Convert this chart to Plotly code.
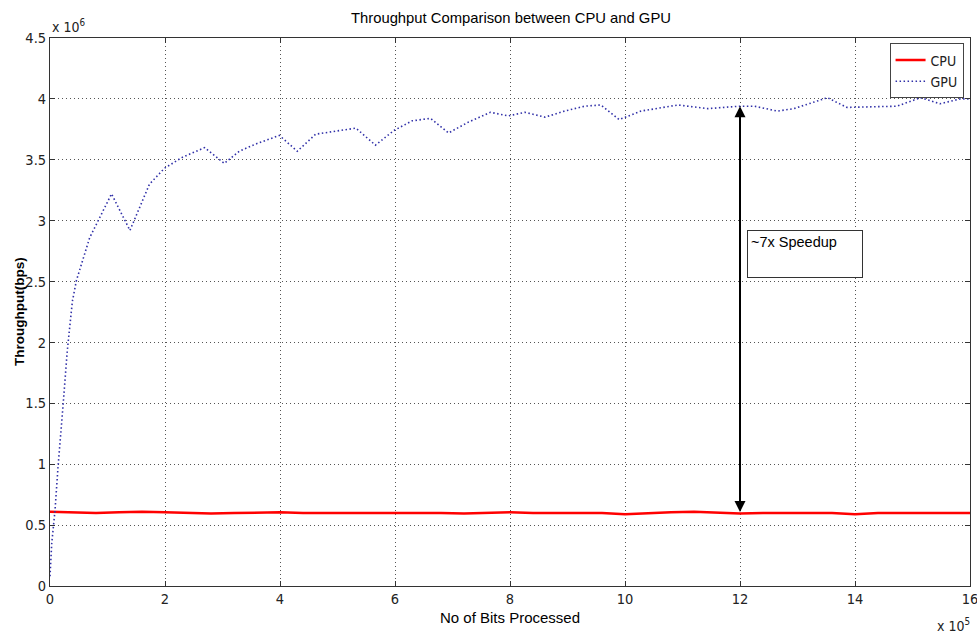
import numpy as np
import plotly.graph_objects as go

# ---- data (x in units of 1e5 bits, y in units of 1e6 bps) ----
gpu_x = [0, 0.03, 0.087, 0.14, 0.23, 0.30, 0.39, 0.46, 0.69, 0.87, 1.07, 1.39, 1.56, 1.73,
         1.99, 2.30, 2.69, 3.03, 3.29, 3.58, 3.99, 4.30, 4.62, 5.0, 5.32, 5.66, 5.98, 6.30,
         6.62, 6.93, 7.28, 7.66, 7.97, 8.26, 8.61, 8.95, 9.30, 9.58, 9.90, 10.28, 10.92,
         11.44, 11.99, 12.25, 12.65, 12.94, 13.52, 13.86, 14.73, 15.14, 15.48, 15.83, 16.0]
gpu_y = [0.08, 0.35, 0.62, 0.98, 1.50, 1.93, 2.34, 2.51, 2.86, 3.03, 3.22, 2.92, 3.11, 3.30,
         3.43, 3.52, 3.60, 3.47, 3.57, 3.63, 3.70, 3.57, 3.71, 3.74, 3.76, 3.62, 3.74, 3.82,
         3.84, 3.72, 3.81, 3.89, 3.86, 3.89, 3.85, 3.90, 3.94, 3.95, 3.83, 3.90, 3.95,
         3.92, 3.94, 3.94, 3.90, 3.92, 4.01, 3.93, 3.94, 4.01, 3.96, 4.00, 4.00]

cpu_x = [i * 0.4 for i in range(41)]
cpu_y = [0.61, 0.605, 0.60, 0.605, 0.61, 0.605, 0.60, 0.595, 0.60, 0.605, 0.605, 0.60, 0.60,
         0.605, 0.60, 0.60, 0.605, 0.60, 0.595, 0.60, 0.605, 0.60, 0.60, 0.605, 0.60, 0.59,
         0.60, 0.605, 0.61, 0.60, 0.595, 0.60, 0.60, 0.605, 0.60, 0.59, 0.60, 0.60, 0.60,
         0.60, 0.60]

x_ticks = [0, 2, 4, 6, 8, 10, 12, 14, 16]
y_ticks = [0, 0.5, 1, 1.5, 2, 2.5, 3, 3.5, 4, 4.5]
x_tick_labels = ["0", "2", "4", "6", "8", "10", "12", "14", "16"]
y_tick_labels = ["0", "0.5", "1", "1.5", "2", "2.5", "3", "3.5", "4", "4.5"]

XS, YS = 1e5, 1e6
arrow_x = 12.0
speedup_text = "~7x Speedup"

NARROW = "DejaVu Sans Condensed, Liberation Sans Narrow, Arial Narrow, sans-serif"
ARIAL = "Liberation Sans, Arial, sans-serif"

fig = go.Figure()
fig.add_trace(go.Scatter(
    x=np.array(cpu_x) * XS, y=np.array(cpu_y) * YS, mode="lines", name="CPU",
    line=dict(color="#ff0000", width=2.5)))
fig.add_trace(go.Scatter(
    x=np.array(gpu_x) * XS, y=np.array(gpu_y) * YS, mode="lines", name="GPU",
    line=dict(color="#3030a8", width=1.6, dash="1.5px,2.5px")))

y_low = float(np.interp(arrow_x, cpu_x, cpu_y)) * YS
y_high = float(np.interp(arrow_x, gpu_x, gpu_y)) * YS

fig.add_annotation(
    x=arrow_x * XS, y=y_high, ax=arrow_x * XS, ay=y_low,
    xref="x", yref="y", axref="x", ayref="y",
    text="", showarrow=True, arrowhead=2, startarrowhead=2,
    arrowside="end+start", arrowsize=1.1, arrowwidth=2, arrowcolor="black")

fig.add_annotation(
    x=12.13 * XS, y=2.92 * YS, xref="x", yref="y", xanchor="left", yanchor="top",
    text=speedup_text, showarrow=False, align="left", valign="top",
    width=108, height=40, bordercolor="#333", borderwidth=1, bgcolor="white",
    borderpad=3, font=dict(family=ARIAL, size=14.5, color="black"))

# exponent labels
fig.add_annotation(x=0, y=1, xref="paper", yref="paper", xanchor="left", yanchor="bottom",
                   text="x 10<sup>6</sup>", showarrow=False,
                   font=dict(family=NARROW, size=14, color="#222"), yshift=1)
fig.add_annotation(x=1, y=0, xref="paper", yref="paper", xanchor="right", yanchor="top",
                   text="x 10<sup>5</sup>", showarrow=False,
                   font=dict(family=NARROW, size=14, color="#222"), yshift=-28, xshift=2)

# y-axis title placed as rotated text
fig.add_annotation(x=0, y=0.5, xref="paper", yref="paper", xanchor="center", yanchor="middle",
                   xshift=-31, textangle=-90, showarrow=False,
                   text="<b>Throughput(bps)</b>",
                   font=dict(family=ARIAL, size=13.5, color="black"))

axis_common = dict(showline=True, linecolor="#333", linewidth=1, mirror="ticks",
                   ticks="inside", ticklen=5, tickcolor="#333",
                   showgrid=True, gridcolor="#555", griddash="1px,3px", gridwidth=1,
                   zeroline=False, ticklabeloverflow="allow", automargin=False,
                   tickfont=dict(family=NARROW, size=14.5, color="#222"))

fig.update_layout(
    width=977, height=639,
    margin=dict(l=50, r=7, t=38, b=53),
    paper_bgcolor="white", plot_bgcolor="white",
    title=dict(text="Throughput Comparison between CPU and GPU", x=0.523, xanchor="center",
               y=0.972, yanchor="middle", font=dict(family=ARIAL, size=14.8, color="black")),
    xaxis=dict(range=[0, 16 * XS], tickvals=[v * XS for v in x_ticks], ticktext=x_tick_labels,
               title=dict(text="No of Bits Processed", standoff=6,
                          font=dict(family=ARIAL, size=15, color="black")),
               **axis_common),
    yaxis=dict(range=[0, 4.5 * YS], tickvals=[v * YS for v in y_ticks], ticktext=y_tick_labels,
               **axis_common),
    legend=dict(x=0.993, y=0.99, xanchor="right", yanchor="top", bgcolor="white",
                bordercolor="#444", borderwidth=1, font=dict(family=NARROW, size=14, color="#222"),
                itemwidth=30, tracegroupgap=0),
    showlegend=True,
)

fig.write_html("out.html")
